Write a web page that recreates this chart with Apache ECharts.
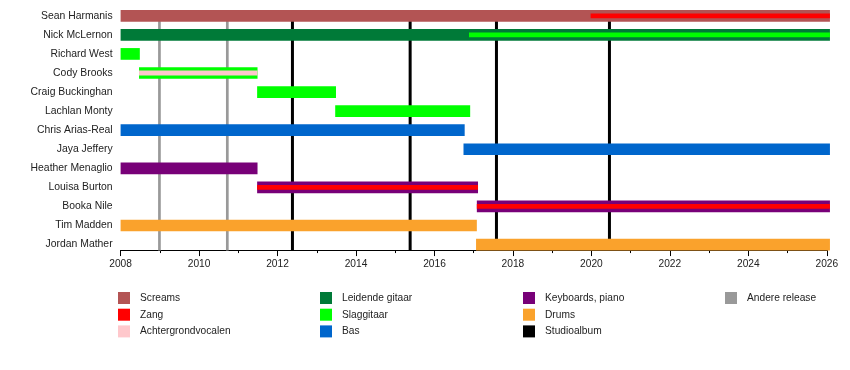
<!DOCTYPE html>
<html><head><meta charset="utf-8">
<script src="https://cdn.jsdelivr.net/npm/echarts@6/dist/echarts.min.js"></script>
<style>html,body{margin:0;padding:0;background:#fff}#c{width:850px;height:370px}</style>
</head><body><div id="c"></div>
<script>
const members = ['Sean Harmanis','Nick McLernon','Richard West','Cody Brooks','Craig Buckinghan','Lachlan Monty','Chris Arias-Real','Jaya Jeffery','Heather Menaglio','Louisa Burton','Booka Nile','Tim Madden','Jordan Mather'];
const barStart = [2008, 2008, 2008, 2008.47, 2011.48, 2013.47, 2008, 2016.74, 2008, 2011.48, 2017.08, 2008, 2017.06];
const barEnd   = [2026.08, 2026.08, 2008.49, 2011.49, 2013.49, 2016.91, 2016.77, 2026.08, 2011.49, 2017.11, 2026.08, 2017.08, 2026.08];
const barRole  = ['Screams','Leidende gitaar','Slaggitaar','Slaggitaar','Slaggitaar','Slaggitaar','Bas','Bas','Keyboards, piano','Keyboards, piano','Keyboards, piano','Drums','Drums'];
const overlayMember = ['Sean Harmanis','Nick McLernon','Cody Brooks','Louisa Burton','Booka Nile'];
const overlayStart  = [2019.98, 2016.88, 2008.47, 2011.48, 2017.08];
const overlayEnd    = [2026.08, 2026.08, 2011.49, 2017.11, 2026.08];
const overlayRole   = ['Zang','Slaggitaar','Achtergrondvocalen','Zang','Zang'];
const studioAlbums  = [2012.38, 2015.38, 2017.58, 2020.46];
const otherReleases = [2008.99, 2010.72];
const axisMin = 2008, axisMax = 2026, axisStep = 2;

const roles = ['Screams','Zang','Achtergrondvocalen','Leidende gitaar','Slaggitaar','Bas','Keyboards, piano','Drums'];
const roleColors = {
  'Screams':'#B35454','Zang':'#FF0000','Achtergrondvocalen':'#FFC8CC',
  'Leidende gitaar':'#007A38','Slaggitaar':'#00FF00','Bas':'#0066CC',
  'Keyboards, piano':'#780078','Drums':'#FAA22C',
  'Studioalbum':'#000000','Andere release':'#999999'
};
const FONT = '"Liberation Sans", Arial, sans-serif';

function barRenderer(th) {
  return function (params, api) {
    const a = api.coord([api.value(0), api.value(2)]);
    const b = api.coord([api.value(1), api.value(2)]);
    return {type:'rect', shape:{x:a[0], y:a[1]-th/2, width:b[0]-a[0], height:th},
      style:{fill: api.visual('color')}};
  };
}
function lineRenderer(w) {
  return function (params, api) {
    const top = api.coord([api.value(0), 0]);
    const bot = api.coord([api.value(0), members.length - 1]);
    return {type:'line', shape:{x1:top[0], y1:top[1], x2:bot[0], y2:bot[1] + 6},
      style:{stroke: api.visual('color'), lineWidth: w}};
  };
}

const series = [];
series.push({type:'custom', name:'Andere release', z:1, itemStyle:{color:roleColors['Andere release']},
  renderItem: lineRenderer(2.7), encode:{x:0}, data: otherReleases.map(v => [v])});
series.push({type:'custom', name:'Studioalbum', z:1, itemStyle:{color:roleColors['Studioalbum']},
  renderItem: lineRenderer(3), encode:{x:0}, data: studioAlbums.map(v => [v])});
roles.forEach(r => {
  const d = [];
  members.forEach((m, i) => { if (barRole[i] === r) d.push([barStart[i], barEnd[i], i]); });
  if (d.length) series.push({type:'custom', name:r, z:2, itemStyle:{color:roleColors[r]},
    renderItem: barRenderer(11.7), encode:{x:[0,1], y:2}, data:d});
});
roles.forEach(r => {
  const d = [];
  overlayMember.forEach((m, i) => { if (overlayRole[i] === r) d.push([overlayStart[i], overlayEnd[i], members.indexOf(m)]); });
  if (d.length) series.push({type:'custom', name:r, z:3, itemStyle:{color:roleColors[r]},
    renderItem: barRenderer(4.8), encode:{x:[0,1], y:2}, data:d});
});

function legend(left, names) {
  return {orient:'vertical', left:left, top:292, padding:0, itemWidth:12, itemHeight:12, itemGap:4.7,
    icon:'rect', selectedMode:false, data:names,
    textStyle:{fontSize:10.2, color:'#222', fontFamily:FONT, padding:[0,0,0,5]}};
}

const chart = echarts.init(document.getElementById('c'), null, {renderer:'canvas'});
chart.setOption({
  animation:false,
  backgroundColor:'#fff',
  grid:{left:120.6, right:23.2, top:6.27, height:247.8, containLabel:false},
  xAxis:{type:'value', min:axisMin, max:axisMax, interval:axisStep, offset:-4,
    axisLine:{show:true, lineStyle:{color:'#000', width:1}},
    axisTick:{show:true, length:6, lineStyle:{color:'#000'}},
    minorTick:{show:true, splitNumber:2, length:3, lineStyle:{color:'#000'}},
    splitLine:{show:false}, minorSplitLine:{show:false},
    axisLabel:{fontSize:10.2, color:'#222', fontFamily:FONT, margin:9, formatter: v => String(v)}},
  yAxis:{type:'category', inverse:true, data:members,
    axisLine:{show:false}, axisTick:{show:false}, splitLine:{show:false},
    axisLabel:{fontSize:10.4, color:'#222', fontFamily:FONT, margin:8, interval:0}},
  legend:[
    legend(118, ['Screams','Zang','Achtergrondvocalen']),
    legend(320, ['Leidende gitaar','Slaggitaar','Bas']),
    legend(523, ['Keyboards, piano','Drums','Studioalbum']),
    legend(725, ['Andere release'])
  ],
  series: series
});
</script></body></html>
